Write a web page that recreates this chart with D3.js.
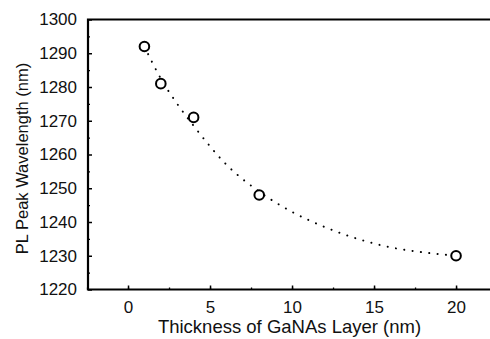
<!DOCTYPE html>
<html>
<head>
<meta charset="utf-8">
<script src="https://cdn.jsdelivr.net/npm/d3@7"></script>
<style>
  html, body { margin: 0; padding: 0; background: #fff; }
  svg { display: block; }
</style>
</head>
<body>
<svg id="chart" width="490" height="339"></svg>
<script>
// measured points
const thickness = [1, 2, 4, 8, 20];
const wavelength = [1292, 1281, 1271, 1248, 1230];

// dotted fit curve
const fitX = [1, 2, 3, 4, 6, 8, 10, 12, 14, 16, 18, 20];
const fitY = [1292, 1282.5, 1275, 1268.5, 1257, 1249, 1243, 1238.5, 1235, 1232.5, 1231, 1230];

const xTicks = [0, 5, 10, 15, 20];
const yTicks = [1220, 1230, 1240, 1250, 1260, 1270, 1280, 1290, 1300];

const width = 490, height = 339;
const margin = { top: 19.5, right: 0, bottom: 49.5, left: 88 };

const svg = d3.select("#chart");

const x = d3.scaleLinear().domain([-2.44, 22.07]).range([margin.left, width - margin.right]);
const y = d3.scaleLinear().domain([1220, 1300]).range([height - margin.bottom, margin.top]);

const font = "'Liberation Sans', Arial, sans-serif";

// minor ticks
svg.append("g")
  .attr("transform", `translate(0,${y(1220)})`)
  .call(d3.axisBottom(x).tickValues(d3.range(-2.5, 22.5, 2.5)).tickSize(-2).tickFormat(""))
  .call(g => g.select(".domain").remove())
  .selectAll("line").attr("stroke", "#000").attr("stroke-width", 1.3);

svg.append("g")
  .attr("transform", `translate(${x.range()[0]},0)`)
  .call(d3.axisLeft(y).tickValues(d3.range(1225, 1300, 10)).tickSize(-2).tickFormat(""))
  .call(g => g.select(".domain").remove())
  .selectAll("line").attr("stroke", "#000").attr("stroke-width", 1.3);

// bottom axis
const gx = svg.append("g")
  .attr("transform", `translate(0,${y(1220)})`)
  .call(d3.axisBottom(x).tickValues(xTicks).tickSize(-4).tickPadding(11.5).tickFormat(d3.format("d")));
gx.select(".domain").remove();
gx.selectAll("line").attr("stroke", "#000").attr("stroke-width", 1.5);
gx.selectAll("text").attr("font-family", font).attr("font-size", 17).attr("fill", "#111");

// left axis
const gy = svg.append("g")
  .attr("transform", `translate(${x.range()[0]},0)`)
  .call(d3.axisLeft(y).tickValues(yTicks).tickSize(-4).tickPadding(11).tickFormat(d3.format("d")));
gy.select(".domain").remove();
gy.selectAll("line").attr("stroke", "#000").attr("stroke-width", 1.5);
gy.selectAll("text").attr("font-family", font).attr("font-size", 17).attr("fill", "#111");

// frame lines: left, bottom, top
svg.append("path")
  .attr("d", `M${width},${y(1300)}H${x.range()[0]}V${y(1220)}H${width}`)
  .attr("fill", "none")
  .attr("stroke", "#000")
  .attr("stroke-width", 2.2);

// fit curve
const line = d3.line()
  .x((d, i) => x(fitX[i]))
  .y(d => y(d))
  .curve(d3.curveMonotoneX);

svg.append("path")
  .datum(fitY)
  .attr("d", line)
  .attr("fill", "none")
  .attr("stroke", "#000")
  .attr("stroke-width", 2)
  .attr("stroke-linecap", "round")
  .attr("stroke-dasharray", "0.1 8.3");

// markers
svg.append("g")
  .selectAll("circle")
  .data(wavelength)
  .join("circle")
  .attr("cx", (d, i) => x(thickness[i]))
  .attr("cy", d => y(d))
  .attr("r", 4.8)
  .attr("fill", "#fff")
  .attr("stroke", "#000")
  .attr("stroke-width", 2);

// axis titles
svg.append("text")
  .attr("x", 289.5)
  .attr("y", 332.5)
  .attr("text-anchor", "middle")
  .attr("font-family", font)
  .attr("font-size", 18.5)
  .attr("fill", "#111")
  .text("Thickness of GaNAs Layer (nm)");

svg.append("text")
  .attr("transform", `translate(28,158.5) rotate(-90)`)
  .attr("text-anchor", "middle")
  .attr("font-family", font)
  .attr("font-size", 16.5)
  .attr("fill", "#111")
  .text("PL Peak Wavelength (nm)");
</script>
</body>
</html>
